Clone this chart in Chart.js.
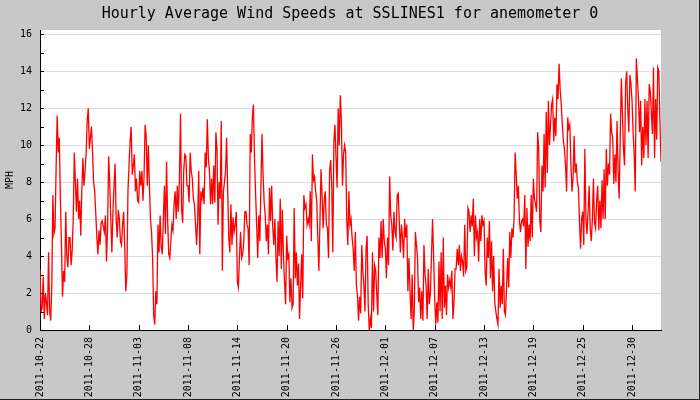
<!DOCTYPE html>
<html>
<head>
<meta charset="utf-8">
<script src="https://cdn.jsdelivr.net/npm/chart.js@4/dist/chart.umd.min.js"></script>
<style>
html,body{margin:0;padding:0;background:#c8c8c8;}
canvas{display:block;}
</style>
</head>
<body>
<canvas id="c" width="700" height="400"></canvas>
<script>
// ---- data (3-hourly readings of the hourly average wind speed, MPH) ----
const chartTitle = 'Hourly Average Wind Speeds at SSLINES1 for anemometer 0';
const yTitle = 'MPH';
const sampleHours = 3;          // hours between readings below
const tickEveryHours = 138;     // hours between x-axis date ticks
const xTickLabels = ['2011-10-22','2011-10-28','2011-11-03','2011-11-08','2011-11-14','2011-11-20',
  '2011-11-26','2011-12-01','2011-12-07','2011-12-13','2011-12-19','2011-12-25','2011-12-30'];
const yTickLabels = [0,2,4,6,8,10,12,14,16];

const speeds = [
  // 2011-10-22 .. 2011-11-03
  3.3,1.0, 1.2,2.9, 0.6,2.0, 1.5,0.8, 4.2,1.0, 0.5,2.4, 7.3,5.2, 5.5,8.7, 11.6,9.6, 10.4,7.1,
  4.6,1.8, 3.2,2.6, 6.4,4.0, 3.4,5.0, 5.0,3.5, 4.3,6.0, 9.6,8.0, 6.4,8.2, 6.0,7.0, 5.1,7.5,
  9.3,7.8, 8.6,9.5, 11.3,12.0, 9.8,10.4, 11.0,9.6, 8.0,7.5, 6.3,5.0, 4.1,5.4, 4.6,5.8, 5.9,5.6,
  5.3,6.2, 3.7,5.5, 9.4,8.0, 6.0,4.2, 6.4,7.8, 9.0,6.0, 5.0,6.5, 6.0,4.8, 4.6,5.7, 6.4,4.5,
  2.1,3.0, 7.5,8.9, 10.2,11.0, 8.4,8.9, 9.5,7.5, 8.2,7.0, 6.9,8.6, 7.8,8.6, 7.0,8.3, 11.1,10.5,
  7.8,10.0,
  // 2011-11-03 .. 2011-11-14
  7.8,6.0, 5.3,3.9, 0.8,0.3, 2.1,1.4, 5.7,4.2, 6.2,4.5, 4.1,6.0, 7.8,5.2, 9.1,6.0, 4.1,3.9,
  4.8,5.7, 5.4,6.8, 7.5,6.0, 7.8,6.4, 8.2,11.7, 6.6,5.8, 8.6,9.5, 9.4,7.8, 7.8,6.9, 9.6,8.6,
  8.2,7.1, 6.8,5.7, 4.6,6.0, 8.6,4.1, 7.5,7.1, 7.7,6.8, 9.6,8.8, 11.4,9.3, 8.6,6.8, 8.2,6.8,
  8.9,6.9, 10.7,9.8, 5.7,8.0, 7.1,11.3, 3.2,7.5, 8.0,8.6, 10.4,7.5, 5.0,4.2, 6.8,4.6, 6.1,5.3,
  5.7,6.4, 2.6,2.3, 4.0,5.3, 3.9,4.1, 4.8,6.4, 6.4,5.7, 5.5,3.5, 10.6,9.6, 11.5,12.2, 9.3,7.4,
  // 2011-11-14 .. 2011-11-30
  5.7,3.9, 6.2,4.8, 7.8,10.6, 8.4,6.9, 6.2,4.8, 5.7,4.1, 7.7,5.9, 7.8,5.6, 4.6,6.0, 3.9,2.6,
  5.9,4.0, 7.1,3.3, 6.5,4.0, 2.6,1.4, 5.1,3.9, 4.1,1.5, 2.8,1.2, 1.4,6.6, 2.8,4.2, 2.4,3.6,
  0.6,2.4, 4.1,1.7, 7.3,6.6, 6.8,5.7, 6.0,5.7, 7.5,4.8, 9.5,8.1, 8.3,7.5, 7.0,5.0, 3.2,5.8,
  8.7,7.3, 5.5,7.0, 7.5,5.7, 5.5,3.9, 8.6,9.2, 7.8,4.2, 10.2,11.1, 9.3,7.7, 12.0,10.0, 12.7,11.3,
  7.8,9.5, 10.0,9.6, 6.0,4.6, 7.5,5.7, 6.0,5.0, 4.4,3.2, 5.3,2.4, 1.9,0.5, 1.8,0.9,
  // 2011-11-30 .. 2011-12-13
  4.6,3.2, 2.4,1.0, 4.4,5.1, 1.4,0.0, 0.6,0.1, 4.2,1.0, 3.5,3.2, 1.9,0.8, 5.0,3.9, 5.9,3.9,
  6.0,4.8, 4.4,2.8, 5.0,3.5, 8.3,6.2, 5.7,4.3, 6.4,5.3, 5.0,7.3, 7.4,5.8, 4.2,5.7, 5.0,3.9,
  6.0,5.0, 5.7,2.1, 3.9,2.1, 0.6,3.0, 0.0,1.0, 5.3,4.6, 3.9,1.5, 2.3,0.6, 2.1,0.5, 4.6,3.0,
  2.4,0.6, 3.3,1.4, 2.0,4.0, 6.0,4.0, 1.7,0.3, 1.5,0.4, 3.7,1.0, 4.2,0.6, 5.0,1.2, 2.4,0.8,
  3.0,2.3, 2.7,2.3, 3.2,0.6, 1.5,3.3, 3.3,4.4, 3.5,4.6, 3.2,4.0, 3.7,2.9,
  // 2011-12-13 .. 2011-12-25
  5.7,3.2, 3.4,6.6, 6.4,5.3, 6.2,5.6, 7.1,4.0, 6.2,5.0, 5.3,3.7, 6.0,4.8, 6.2,5.7, 5.9,3.2,
  2.4,5.0, 3.9,5.9, 2.8,4.8, 2.1,4.0, 1.5,1.0, 0.6,0.3, 3.3,1.2, 2.4,1.4, 4.4,1.0, 0.8,2.3,
  3.9,2.3, 5.3,3.9, 5.5,5.0, 6.0,9.6, 8.4,7.1, 7.8,5.9, 5.3,5.9, 6.0,5.6, 7.3,3.3, 6.6,4.5,
  5.7,4.8, 7.3,5.0, 8.2,7.1, 6.8,6.4, 10.7,9.8, 5.9,5.3, 8.9,7.5, 10.6,7.7, 11.8,8.5, 12.4,10.0,
  11.1,12.2, 12.5,10.2, 11.5,10.5, 13.3,12.5, 14.4,13.0, 12.2,11.1, 10.2,9.8, 8.9,7.5, 11.5,10.9,
  // 2011-12-25 .. end
  11.1,9.0, 7.5,8.2, 10.5,8.5, 9.0,8.0, 7.7,5.9, 4.4,6.0, 6.4,4.6, 9.8,6.0, 5.2,6.4, 7.8,5.5,
  4.8,6.0, 8.2,5.8, 5.5,7.0, 7.8,5.4, 7.0,5.5, 8.1,6.0, 8.7,6.0, 9.8,7.8, 9.0,8.4, 11.7,10.7,
  10.4,7.9, 9.5,8.0, 11.3,8.6, 7.1,10.4, 13.6,11.8, 9.8,8.9, 13.3,14.0, 12.0,10.7, 13.8,13.3, 12.4,10.7,
  9.5,7.5, 14.7,13.6, 12.5,10.7, 12.4,8.9, 11.0,9.3, 12.5,10.0, 12.4,9.3, 13.3,12.9, 11.8,10.6, 14.2,9.3,
  12.5,10.3, 14.2,14.0, 11.3,9.1
];

const FONT = "'DejaVu Sans Mono', 'Liberation Mono', monospace";
const points = speeds.map((v, i) => ({x: i * sampleHours, y: v}));
const lastHour = (speeds.length - 1) * sampleHours;

const framePlugin = {
  id: 'frame',
  beforeDraw(chart) {
    const {ctx, chartArea: a, width, height} = chart;
    ctx.save();
    ctx.fillStyle = '#c8c8c8';
    ctx.fillRect(0, 0, width, height);
    ctx.fillStyle = '#ffffff';
    ctx.fillRect(a.left, a.top, a.right - a.left, a.bottom - a.top);
    ctx.strokeStyle = '#222';
    ctx.lineWidth = 1;
    ctx.beginPath();
    ctx.moveTo(width - 0.5, 0); ctx.lineTo(width - 0.5, height - 0.5); ctx.lineTo(0, height - 0.5);
    ctx.stroke();
    ctx.restore();
  },
  afterDraw(chart) {
    const {ctx, chartArea: a, scales} = chart;
    ctx.save();
    ctx.strokeStyle = '#000';
    ctx.lineWidth = 1;
    ctx.beginPath();
    scales.x.ticks.forEach(t => {
      const px = Math.round(scales.x.getPixelForValue(t.value)) + 0.5;
      ctx.moveTo(px, a.bottom); ctx.lineTo(px, a.bottom - 5);
    });
    scales.y.ticks.forEach(t => {
      const py = Math.round(scales.y.getPixelForValue(t.value)) + 0.5;
      ctx.moveTo(a.left, py); ctx.lineTo(a.left + 4, py);
    });
    ctx.stroke();
    ctx.restore();
  }
};

new Chart(document.getElementById('c'), {
  type: 'line',
  data: {
    datasets: [{
      data: points,
      borderColor: '#ff0000',
      borderWidth: 1.3,
      pointRadius: 0,
      tension: 0,
      fill: false
    }]
  },
  options: {
    responsive: false,
    animation: false,
    events: [],
    layout: {padding: 0},
    plugins: {
      legend: {display: false},
      tooltip: {enabled: false},
      title: {
        display: true,
        text: chartTitle,
        color: '#000',
        font: {family: FONT, size: 15, weight: 'normal'},
        padding: {top: 5, bottom: 7}
      }
    },
    scales: {
      x: {
        type: 'linear',
        min: 0,
        max: lastHour,
        grid: {display: false},
        border: {display: true, color: '#000', width: 1},
        ticks: {
          stepSize: tickEveryHours,
          includeBounds: false,
          autoSkip: false,
          minRotation: 90,
          maxRotation: 90,
          padding: -1,
          color: '#000',
          font: {family: FONT, size: 10},
          callback: v => xTickLabels[Math.round(v / tickEveryHours)] || ''
        },
        afterFit: s => { s.height = 70; }
      },
      y: {
        type: 'linear',
        position: 'left',
        min: 0,
        max: 16.23,
        grid: {
          drawTicks: false,
          color: c => yTickLabels.includes(c.tick.value) && c.tick.value > 0 ? '#dcdcdc' : 'rgba(0,0,0,0)'
        },
        border: {display: true, color: '#000', width: 1},
        title: {display: true, text: yTitle, color: '#000', font: {family: FONT, size: 10}, padding: {top: 4, bottom: 0}},
        ticks: {
          stepSize: 1,
          includeBounds: false,
          autoSkip: false,
          padding: 8,
          color: '#000',
          font: {family: FONT, size: 10},
          callback: v => yTickLabels.includes(v) ? String(v) : ''
        },
        afterFit: s => { s.width = 40; }
      },
      yRight: {
        type: 'linear',
        position: 'right',
        min: 0,
        max: 16.23,
        grid: {display: false},
        border: {display: false},
        ticks: {display: false},
        afterFit: s => { s.width = 39; }
      }
    }
  },
  plugins: [framePlugin]
});
</script>
</body>
</html>
